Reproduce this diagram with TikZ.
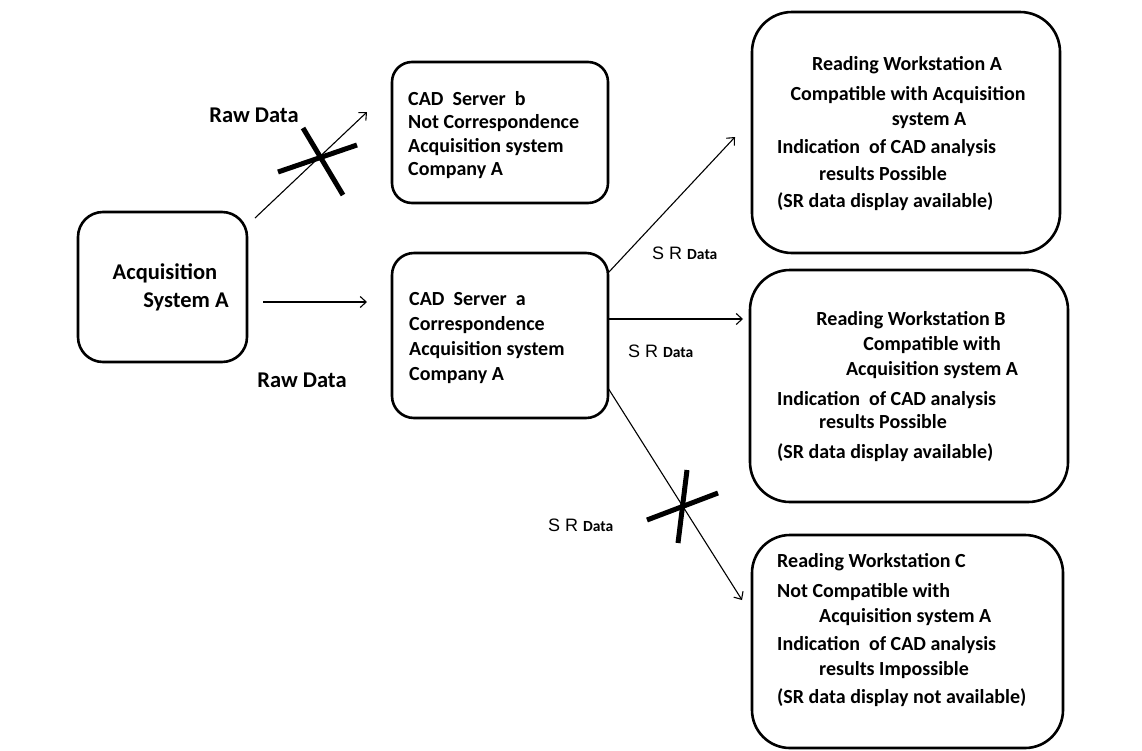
\documentclass[tikz,border=0pt]{standalone}
\usepackage{fontspec}
\setmainfont{Carlito}
\newfontfamily\arialf{Liberation Sans}
\usetikzlibrary{arrows.meta}
\newcommand{\srdata}{{\arialf\fontsize{18}{20}\selectfont S R\ }{\bfseries\fontsize{15.5}{20}\selectfont Data}}
\begin{document}
\begin{tikzpicture}[x=1pt,y=-1pt,
  box/.style={draw, line width=2.6pt, rounded corners=#1, inner sep=0pt},
  txt/.style={font=\fontsize{20}{23}\selectfont\bfseries, inner sep=0pt, text height=14pt, text depth=4pt},
  bigtxt/.style={font=\fontsize{22.5}{26}\selectfont\bfseries, inner sep=0pt, text height=16pt, text depth=5pt},
  lt/.style={txt, anchor=west},
  arr/.style={line width=1.1pt, -{Straight Barb[length=6pt,width=11pt,line width=1.1pt]}},
  crossline/.style={line width=5pt},
  srlab/.style={inner sep=0pt, anchor=west, text height=13pt, text depth=4pt}]
\useasboundingbox (0,0) rectangle (1142,750);
\fill[white] (0,0) rectangle (1142,750);
% boxes
\node[box=25pt, minimum width=169pt, minimum height=150pt] (acq) at (162.5,287) {};
\node[box=20pt, minimum width=216pt, minimum height=141pt] (srvb) at (500,132.5) {};
\node[box=22pt, minimum width=216pt, minimum height=165pt] (srva) at (500,335.5) {};
\node[box=40pt, minimum width=308pt, minimum height=241pt] (rwa) at (906,132.5) {};
\node[box=40pt, minimum width=318pt, minimum height=232pt] (rwb) at (909,386) {};
\node[box=38pt, minimum width=311pt, minimum height=213pt] (rwc) at (907.5,641.5) {};
% box texts
\node[bigtxt] (acq1) at (165,274) {Acquisition};
\node[bigtxt] (acq2) at (186,302) {System A};
\node[lt] (b1) at (408,100) {CAD\ \ Server\ \ b};
\node[lt] (b2) at (408,123) {Not Correspondence};
\node[lt] (b3) at (408,147) {Acquisition system};
\node[lt] (b4) at (408,170) {Company A};
\node[lt] (s1) at (409,300) {CAD\ \ Server\ \ a};
\node[lt] (s2) at (409,325) {Correspondence};
\node[lt] (s3) at (409,350) {Acquisition system};
\node[lt] (s4) at (409,375) {Company A};
\node[txt] (ra1) at (907,65) {Reading Workstation A};
\node[txt] (ra2) at (908,95) {Compatible with Acquisition};
\node[txt] (ra3) at (929,120) {system A};
\node[lt] (ra4) at (777,148) {Indication\ \ of CAD analysis};
\node[lt] (ra5) at (819,175) {results Possible};
\node[lt] (ra6) at (777,202) {(SR data display available)};
\node[txt] (rb1) at (911,320) {Reading Workstation B};
\node[txt] (rb2) at (932,345) {Compatible with};
\node[txt] (rb3) at (932,370) {Acquisition system A};
\node[lt] (rb4) at (777,400) {Indication\ \ of CAD analysis};
\node[lt] (rb5) at (819,423) {results Possible};
\node[lt] (rb6) at (777,453) {(SR data display available)};
\node[lt] (rc1) at (777,562) {Reading Workstation C};
\node[lt] (rc2) at (777,592) {Not Compatible with};
\node[lt] (rc3) at (819,617) {Acquisition system A};
\node[lt] (rc4) at (777,645) {Indication\ \ of CAD analysis};
\node[lt] (rc5) at (819,670) {results Impossible};
\node[lt] (rc6) at (777,698) {(SR data display not available)};
% labels
\node[bigtxt] (raw1) at (254,117) {Raw Data};
\node[bigtxt] (raw2) at (302,382) {Raw Data};
\node[srlab] (sr1) at (652,255) {\srdata};
\node[srlab] (sr2) at (628,353) {\srdata};
\node[srlab] (sr3) at (548,527) {\srdata};
% connector end points
\coordinate (a1s) at (255,218); \coordinate (a1e) at (367,112);
\coordinate (a2s) at (263,302); \coordinate (a2e) at (367,302);
\coordinate (a3s) at (608,273); \coordinate (a3e) at (735,137);
\coordinate (a4s) at (608,319); \coordinate (a4e) at (743,319);
\coordinate (a5s) at (608,388); \coordinate (a5e) at (742,600);
\draw[arr] (a1s) -- (a1e);
\draw[arr] (a2s) -- (a2e);
\draw[arr] (a3s) -- (a3e);
\draw[arr] (a4s) -- (a4e);
\draw[arr] (a5s) -- (a5e);
% crosses
\coordinate (x1a) at (278,172); \coordinate (x1b) at (357,145);
\coordinate (x1c) at (303,128); \coordinate (x1d) at (343,195);
\draw[crossline] (x1a) -- (x1b);
\draw[crossline] (x1c) -- (x1d);
\coordinate (x2a) at (647,520); \coordinate (x2b) at (718,493);
\coordinate (x2c) at (687,470); \coordinate (x2d) at (678,543);
\draw[crossline] (x2a) -- (x2b);
\draw[crossline] (x2c) -- (x2d);
\end{tikzpicture}
\end{document}
